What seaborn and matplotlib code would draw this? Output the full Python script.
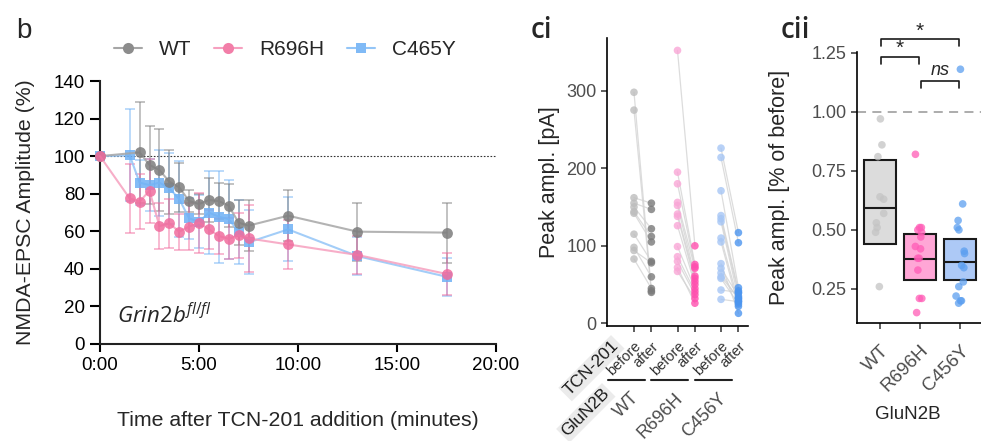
import numpy as np
import pandas as pd
import seaborn as sns
import matplotlib.pyplot as plt
from matplotlib.lines import Line2D
from matplotlib.transforms import ScaledTranslation

# ---- panel b: time course (mean +/- sem, % of baseline) ----
times_wt = [0, 2, 2.5, 3, 3.5, 4, 4.5, 5, 5.5, 6, 6.5, 7, 7.5, 9.5, 13, 17.5]
times_mut = [0, 1.5, 2, 2.5, 3, 3.5, 4, 4.5, 5, 5.5, 6, 6.5, 7, 7.5, 9.5, 13, 17.5]

wt_mean = [100, 102, 95.3, 92.6, 86.4, 83.4, 76.1, 74.5, 76.6, 76.1, 73.6, 64.6, 63, 68.3, 59.8, 59.3]
wt_sem = [0, 27, 21, 22, 17, 13, 6, 5.5, 11.5, 9.5, 11.5, 12, 13.5, 13.5, 15.5, 16]

r696h_mean = [100, 77.5, 75.8, 81.6, 62.8, 64.2, 59.8, 62.5, 64.6, 61, 57.5, 56, 57.8, 56.2, 53, 47.4, 37.3]
r696h_sem = [0, 18.5, 14.5, 17, 12, 13, 9.5, 12.5, 16, 10.5, 9.5, 11, 12, 18, 13, 10, 11]

c465y_mean = [100, 100.4, 85.9, 84.6, 85.9, 82.9, 77.2, 66.9, 65.1, 69.9, 67.8, 66.4, 59.8, 54.1, 61, 46.8, 35.8]
c465y_sem = [0, 24.5, 12, 14, 17.5, 19, 20, 11, 14, 22, 24.5, 21, 17, 17, 17, 10, 10]

# ---- panel ci: paired peak amplitudes (pA) ----
wt_before = [298, 275, 162, 155, 150, 144, 142, 115, 98, 94, 83]
wt_after = [42, 40, 155, 147, 122, 112, 105, 80, 60, 78, 45]
r696h_before = [352, 195, 180, 156, 152, 141, 138, 126, 99, 86, 80, 67, 72]
r696h_after = [100, 76, 73, 71, 61, 58, 54, 50, 45, 41, 37, 32, 26]
c456y_before = [226, 214, 171, 139, 135, 131, 110, 105, 77, 71, 65, 58, 43, 31, 60]
c456y_after = [117, 104, 46, 42, 39, 32, 28, 22, 13, 35, 30, 25, 40, 28, 33]

# ---- panel cii: after / before ratio ----
genotypes = ["WT", "R696H", "C456Y"]
ratio_wt = [0.97, 0.86, 0.81, 0.64, 0.63, 0.57, 0.53, 0.51, 0.49, 0.26]
ratio_r696h = [0.82, 0.51, 0.51, 0.50, 0.49, 0.47, 0.43, 0.42, 0.38, 0.38, 0.33, 0.21, 0.21, 0.15]
ratio_c456y = [1.18, 0.61, 0.54, 0.51, 0.50, 0.41, 0.40, 0.35, 0.34, 0.28, 0.26, 0.22, 0.20, 0.20, 0.19]
box_lo = [0.44, 0.29, 0.287]
box_mid = [0.592, 0.377, 0.363]
box_hi = [0.795, 0.484, 0.461]
# (group a, group b, height, label)
comparisons = [(0, 1, 1.232, "*"), (1, 2, 1.13, "ns"), (0, 2, 1.306, "*")]

sns.set_theme(style="ticks")
plt.rcParams["font.family"] = ["Liberation Sans", "DejaVu Sans"]
plt.rcParams["mathtext.fontset"] = "custom"
plt.rcParams["mathtext.it"] = "Open Sans:italic"
plt.rcParams["mathtext.rm"] = "Open Sans"

W, H = 981, 441
fig = plt.figure(figsize=(W / 100, H / 100), dpi=100)


def px_axes(left, top, right, bottom):
    return fig.add_axes([left / W, 1 - bottom / H, (right - left) / W, (bottom - top) / H])


def fig_xy(x, y):
    return x / W, 1 - y / H


# ================= panel b =================
ax = px_axes(100, 81, 496, 344)
series = [
    ("C465Y", times_mut, c465y_mean, c465y_sem, "s", "#6fb1f5", "#93c5f7"),
    ("WT", times_wt, wt_mean, wt_sem, "o", "#7d7d7d", "#a6a6a6"),
    ("R696H", times_mut, r696h_mean, r696h_sem, "o", "#f06c9e", "#f6a0bf"),
]
rows = []
for name, t, m, s, *_ in series:
    for ti, mi, si in zip(t, m, s):
        rows.append({"geno": name, "t": ti, "mean": mi, "err": si})
df_b = pd.DataFrame(rows)

ax.axhline(100, color="#333333", lw=0.8, ls=(0, (1.5, 1.5)), zorder=1)
for name, t, m, s, mk, mcol, lcol in series:
    sub = df_b[df_b["geno"] == name]
    ax.errorbar(sub["t"], sub["mean"], yerr=sub["err"], fmt="none", ecolor=mcol, alpha=0.55,
                elinewidth=1.2, capsize=3.3, capthick=1.2, clip_on=False, zorder=2)
    sns.lineplot(data=sub, x="t", y="mean", ax=ax, color=lcol, lw=1.5, marker=mk,
                 markersize=7.8 if mk == "o" else 7.3, markeredgewidth=0,
                 markerfacecolor=mcol, alpha=0.85, clip_on=False, zorder=3,
                 estimator=None, sort=False)

ax.set_xlim(0, 20)
ax.set_ylim(0, 140)
ax.set_xticks([0, 5, 10, 15, 20])
ax.set_xticklabels(["0:00", "5:00", "10:00", "15:00", "20:00"])
ax.set_yticks(range(0, 141, 20))
ax.tick_params(axis="both", labelsize=13.5, colors="black", width=1.5, direction="out")
ax.tick_params(axis="x", length=6)
ax.tick_params(axis="y", length=7.5)
for sp in ["left", "bottom"]:
    ax.spines[sp].set_linewidth(1.5)
    ax.spines[sp].set_color("#222222")
sns.despine(ax=ax)
ax.set_xlabel("Time after TCN-201 addition (minutes)", fontsize=15.3)
ax.xaxis.set_label_coords(0.5, -0.255)
ax.set_ylabel("NMDA-EPSC Amplitude (%)", fontsize=15.3)
ax.yaxis.set_label_coords(-0.165, 0.5)
fig.text(*fig_xy(117, 323), r"$\mathit{Grin2b}^{\mathit{fl/fl}}$", fontsize=16, va="baseline")

handles = [
    Line2D([], [], color="#a6a6a6", marker="o", markerfacecolor="#8c8c8c", markeredgewidth=0,
           markersize=8, lw=1.5),
    Line2D([], [], color="#f6a0bf", marker="o", markerfacecolor="#f27ea8", markeredgewidth=0,
           markersize=8, lw=1.5),
    Line2D([], [], color="#93c5f7", marker="s", markerfacecolor="#80baf6", markeredgewidth=0,
           markersize=7.5, lw=1.5),
]
ax.legend(handles, ["WT", "R696H", "C465Y"], ncol=3, frameon=False, fontsize=15,
          loc="center", bbox_to_anchor=(0.467, 1.118), handlelength=1.35, columnspacing=1.1,
          handletextpad=0.8)
fig.text(*fig_xy(16, 38), "b", fontsize=20, va="baseline")

# ================= panel ci =================
ax2 = px_axes(607, 38, 748, 325.7)
pos = {"WT": (0, 1), "R696H": (2.5, 3.5), "C456Y": (5, 6)}
paired = {"WT": (wt_before, wt_after), "R696H": (r696h_before, r696h_after),
          "C456Y": (c456y_before, c456y_after)}
cols_ci = {"WT": ("#bdbdbd", "#7a7a7a"), "R696H": ("#f9a6d6", "#ff4fae"),
           "C456Y": ("#a6c6f5", "#4c95ef")}
rows = []
for g in genotypes:
    bef, aft = paired[g]
    for i, (vb, va) in enumerate(zip(bef, aft)):
        rows.append({"geno": g, "cond": "before", "x": pos[g][0], "amp": vb, "cell": f"{g}{i}"})
        rows.append({"geno": g, "cond": "after", "x": pos[g][1], "amp": va, "cell": f"{g}{i}"})
df_ci = pd.DataFrame(rows)
df_ci["key"] = df_ci["geno"] + "_" + df_ci["cond"]
sns.lineplot(data=df_ci, x="x", y="amp", units="cell", estimator=None, ax=ax2,
             color="#d4d4d4", lw=0.9, alpha=0.8, zorder=1, sort=False)
palette = {}
for g in genotypes:
    palette[g + "_before"] = cols_ci[g][0]
    palette[g + "_after"] = cols_ci[g][1]
sns.scatterplot(data=df_ci, x="x", y="amp", hue="key", palette=palette, ax=ax2, s=30,
                linewidth=0, alpha=0.8, legend=False, zorder=3, clip_on=False)
ax2.set_xlim(-1.55, 6.55)
ax2.set_ylim(-3, 368)
ax2.set_yticks([0, 100, 200, 300])
xt = [p for g in genotypes for p in pos[g]]
ax2.set_xticks(xt)
ax2.set_xticklabels(["before", "after"] * 3, rotation=45, ha="right", va="top",
                    rotation_mode="anchor", fontsize=10.5, color="#333333")
ax2.tick_params(axis="x", length=4, width=1.1, pad=5.6, color="#333333")
ax2.tick_params(axis="y", length=4, width=1.1, labelsize=13, labelcolor="#4d4d4d",
                color="#333333")
for sp in ["left", "bottom"]:
    ax2.spines[sp].set_linewidth(1.2)
    ax2.spines[sp].set_color("black")
sns.despine(ax=ax2)
ax2.set_xlabel("")
ax2.set_ylabel("Peak ampl. [pA]", fontsize=15.5)
ax2.yaxis.set_label_coords(-0.33, 0.5)

# group labels and bars under the before/after pairs
for g in genotypes:
    gc = (pos[g][0] + pos[g][1]) / 2
    ax2.plot([gc - 2.0, gc + 0.13], [-0.19, -0.19], color="#222222", lw=1.5,
             transform=ax2.get_xaxis_transform(), clip_on=False)
    ax2.text(gc - 0.7, -0.222, g, transform=ax2.get_xaxis_transform(), rotation=45,
             rotation_mode="anchor", ha="right", va="top", fontsize=13, color="#4d4d4d")
strip = dict(facecolor="#ebebeb", edgecolor="none", pad=1.5)
fig.text(*fig_xy(611, 338), "TCN-201", rotation=45, rotation_mode="anchor", ha="right",
         va="top", fontsize=12.5, color="#1a1a1a", bbox=strip, zorder=-1)
fig.text(*fig_xy(602, 386), "GluN2B", rotation=45, rotation_mode="anchor", ha="right",
         va="top", fontsize=12.5, color="#1a1a1a", bbox=strip, zorder=-1)
fig.text(*fig_xy(531, 38), "ci", fontsize=20, va="baseline", family="Open Sans",
         weight="semibold")

# ================= panel cii =================
ax3 = px_axes(856.7, 52, 981, 323)
ratios = {"WT": ratio_wt, "R696H": ratio_r696h, "C456Y": ratio_c456y}
df_cii = pd.DataFrame([{"geno": g, "ratio": v} for g in genotypes for v in ratios[g]])
box_fill = ["#dcdcdc", "#ffa6d6", "#adc9f6"]
dot_cols = {"WT": "#c4c4c4", "R696H": "#ff5cb6", "C456Y": "#5c9ff0"}
ax3.axhline(1.0, color="#a6a6a6", lw=1.3, ls=(0, (5, 3.5)), zorder=0)
ax3.bar(range(3), np.subtract(box_hi, box_lo), bottom=box_lo, width=0.81,
        color=box_fill, edgecolor="#1a1a1a", linewidth=1.5, zorder=1)
ax3.hlines(box_mid, np.arange(3) - 0.405, np.arange(3) + 0.405, color="#1a1a1a", lw=1.5,
           zorder=2)
np.random.seed(3)
sns.stripplot(data=df_cii, x="geno", y="ratio", hue="geno", palette=dot_cols, order=genotypes,
              ax=ax3, jitter=0.12, size=5.5, alpha=0.75, linewidth=0, legend=False, zorder=3)
ax3.set_xlim(-0.58, 2.525)
ax3.set_ylim(0.106, 1.253)
ax3.set_yticks([0.25, 0.5, 0.75, 1.0, 1.25])
ax3.set_yticklabels(["0.25", "0.50", "0.75", "1.00", "1.25"])
ax3.set_xticks(range(3))
ax3.set_xticklabels(genotypes, rotation=45, ha="right", va="top", rotation_mode="anchor",
                    fontsize=13.5, color="#4d4d4d")
shift = ScaledTranslation(5 / 100, 0, fig.dpi_scale_trans)
for lab in ax3.get_xticklabels():
    lab.set_transform(lab.get_transform() + shift)
ax3.tick_params(axis="x", length=4, width=1.1, pad=9.7, color="#333333")
ax3.tick_params(axis="y", length=4, width=1.1, labelsize=13, labelcolor="#4d4d4d",
                color="#333333")
for sp in ["left", "bottom"]:
    ax3.spines[sp].set_linewidth(1.2)
    ax3.spines[sp].set_color("black")
sns.despine(ax=ax3)
ax3.set_xlabel("GluN2B", fontsize=13.5)
ax3.xaxis.set_label_coords(0.413, -0.305)
ax3.set_ylabel("Peak ampl. [% of before]", fontsize=15.5)
ax3.yaxis.set_label_coords(-0.54, 0.5)
for a, b, y, lab in comparisons:
    leg = 0.028
    ax3.plot([a + 0.03, a + 0.03, b - 0.03, b - 0.03], [y - leg, y, y, y - leg], color="#1a1a1a",
             lw=1.2, clip_on=False)
    if lab == "*":
        ax3.text((a + b) / 2, y - 0.005, "*", ha="center", va="bottom", fontsize=15,
                 clip_on=False)
    else:
        ax3.text((a + b) / 2, y + 0.01, lab, ha="center", va="bottom", fontsize=13,
                 style="italic", clip_on=False)
fig.text(*fig_xy(781, 38), "cii", fontsize=20, va="baseline", family="Open Sans",
         weight="semibold")

fig.savefig("out.png", dpi=100)
